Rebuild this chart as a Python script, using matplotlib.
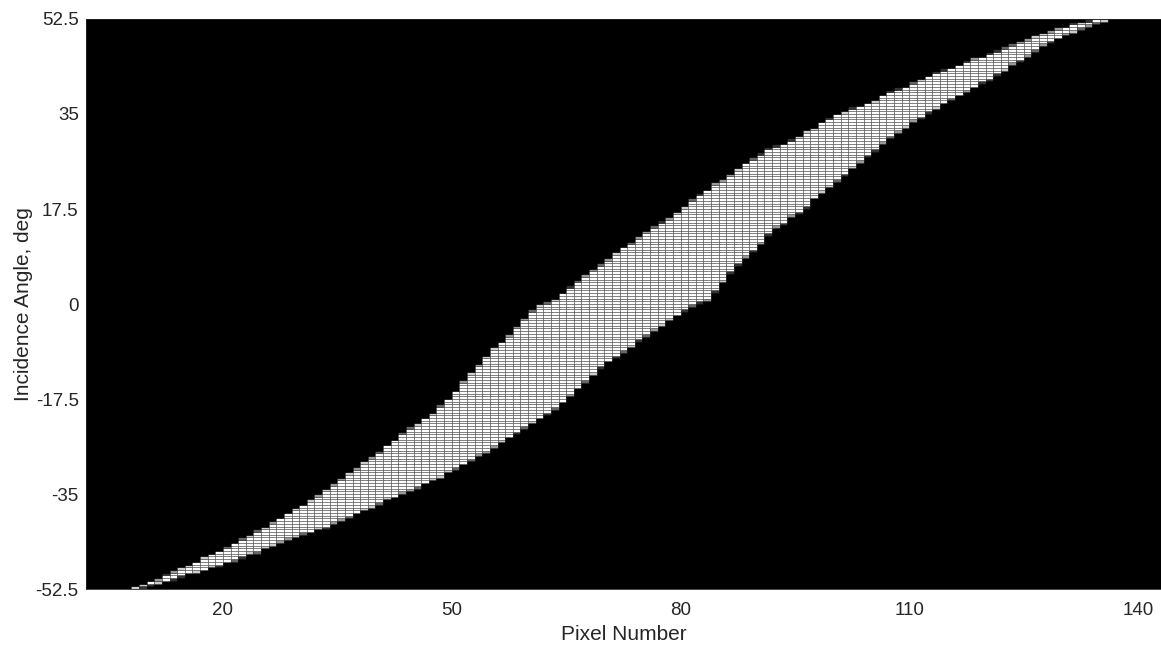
import numpy as np
import matplotlib.pyplot as plt

plt.rcParams['font.family'] = ['Liberation Sans', 'DejaVu Sans']

# first pixel column that has any signal; one value per column after it
first_pixel = 8

# upper edge of the lit band (deg), pixel 8 .. 135
band_top = [
    -52.1, -51.6, -51.0, -50.7, -49.9, -49.2, -48.6, -48.1, -47.5, -46.6,
    -46.0, -45.5, -44.8, -44.0, -43.3, -42.6, -41.8, -41.1, -40.2, -39.5,
    -38.5, -37.6, -37.0, -36.1, -35.2, -34.1, -33.2, -32.2, -31.1, -30.2,
    -29.1, -28.2, -27.3, -26.0, -25.0, -23.8, -22.8, -22.1, -21.0, -20.1,
    -18.8, -17.5, -16.0, -14.2, -12.6, -11.2, -9.6, -8.1, -7.0, -5.7,
    -4.2, -2.7, -1.3, -0.1, 0.2, 0.9, 2.0, 3.1, 4.2, 5.3,
    6.3, 7.2, 8.3, 9.4, 10.5, 11.2, 12.3, 13.3, 14.2, 15.1,
    15.8, 16.9, 17.9, 19.2, 20.1, 21.0, 22.3, 22.8, 23.8, 24.9,
    26.0, 26.7, 27.6, 28.6, 29.1, 29.5, 30.1, 30.9, 31.9, 32.4,
    33.5, 34.1, 35.0, 35.4, 36.1, 36.5, 37.0, 37.4, 38.5, 39.1,
    39.6, 40.0, 40.7, 41.4, 42.0, 42.6, 43.1, 43.5, 44.0, 44.6,
    45.3, 45.5, 46.1, 46.6, 47.2, 47.7, 48.3, 48.8, 49.4, 49.9,
    50.3, 50.8, 51.0, 51.6, 51.9, 52.1, 52.5, 52.5,
]

# lower edge of the lit band (deg), pixel 8 .. 135
band_bottom = [
    -52.5, -52.1, -51.6, -51.4, -51.0, -50.6, -50.1, -49.5, -49.4, -49.0,
    -48.4, -48.1, -47.5, -47.2, -46.6, -45.9, -45.7, -44.9, -44.4, -43.8,
    -43.3, -42.9, -42.2, -42.0, -41.4, -41.1, -40.3, -39.8, -39.2, -38.5,
    -37.9, -37.4, -36.7, -35.9, -35.5, -34.8, -34.3, -33.7, -33.0, -32.4,
    -31.9, -30.9, -30.2, -29.5, -28.7, -27.8, -27.3, -26.3, -25.4, -24.5,
    -23.6, -22.7, -21.9, -21.0, -20.1, -19.2, -18.0, -16.8, -15.5, -14.2,
    -12.9, -11.6, -10.5, -9.6, -8.7, -7.9, -6.6, -5.7, -4.8, -3.9,
    -2.9, -2.0, -1.1, -0.2, 0.4, 0.7, 2.4, 4.1, 5.9, 7.4,
    8.7, 9.9, 11.2, 12.9, 14.2, 14.9, 16.2, 16.9, 17.9, 19.5,
    20.6, 21.6, 22.8, 23.9, 25.1, 26.2, 27.4, 28.4, 29.7, 30.8,
    31.7, 32.6, 33.7, 34.4, 35.4, 36.1, 37.0, 37.8, 38.5, 39.2,
    40.0, 40.9, 41.4, 42.4, 43.1, 44.2, 44.9, 45.7, 46.8, 47.7,
    48.4, 49.0, 49.7, 50.1, 50.8, 51.2, 51.8, 52.1,
]

x_ticks = [20, 50, 80, 110, 140]
y_ticks = [-52.5, -35, -17.5, 0, 17.5, 35, 52.5]
y_tick_labels = ['-52.5', '-35', '-17.5', '0', '17.5', '35', '52.5']

# pcolor grid: pixel vertices 2..143, angle bins of 0.5 deg
x_edges = np.arange(2, 144)
y_edges = np.arange(-52.5, 52.5 + 0.25, 0.5)
img = np.zeros((len(y_edges) - 1, len(x_edges) - 1))
for k, (top, bot) in enumerate(zip(band_top, band_bottom)):
    col = first_pixel + k - x_edges[0]
    overlap = np.minimum(top, y_edges[1:]) - np.maximum(bot, y_edges[:-1])
    img[:, col] = np.clip(overlap, 0, None) / 0.5

fig = plt.figure(figsize=(11.61, 6.46), dpi=100)
ax = fig.add_axes([0.0738, 0.0882, 0.9262, 0.8824])
ax.set_facecolor('black')
ax.pcolormesh(x_edges, y_edges, img, cmap='gray', vmin=0, vmax=1,
              edgecolors=(0, 0, 0, 0.45), linewidth=0.4, antialiased=True)

ax.set_xlim(2, 143)
ax.set_ylim(-52.5, 52.5)
ax.set_xticks(x_ticks)
ax.set_yticks(y_ticks)
ax.set_yticklabels(y_tick_labels)
ax.tick_params(axis='x', length=0, pad=9, labelsize=13.5, colors='#262626')
ax.tick_params(axis='y', length=0, pad=5, labelsize=13.5, colors='#262626')
for s in ax.spines.values():
    s.set_color('#262626')
    s.set_linewidth(0.6)

ax.set_xlabel('Pixel Number', fontsize=15, color='#262626', labelpad=4.5)
ax.set_ylabel('Incidence Angle, deg', fontsize=15, color='#262626', labelpad=2)

plt.savefig('out.png', dpi=100)
